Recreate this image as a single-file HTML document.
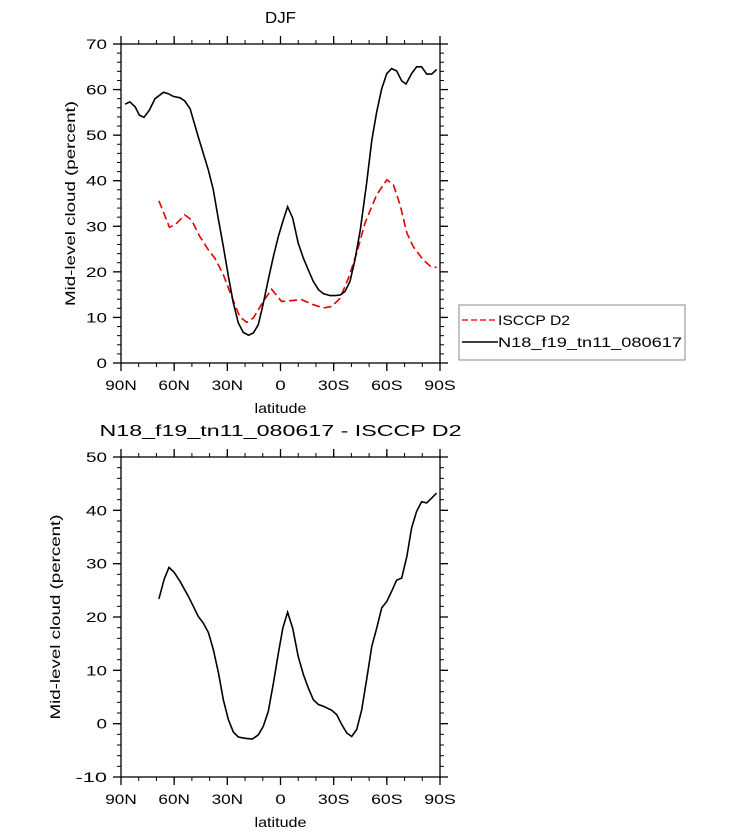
<!DOCTYPE html>
<html><head><meta charset="utf-8"><style>
body{margin:0;background:#fff;}
svg text{font-family:"Liberation Sans",sans-serif;fill:#000;}
</style></head><body>
<svg id="chart" width="733" height="835" xmlns="http://www.w3.org/2000/svg"></svg>
<script>
const xTickLabels=["90N","60N","30N","0","30S","60S","90S"];
const xTickLats=[90,60,30,0,-30,-60,-90];
const topYTicks=[0,10,20,30,40,50,60,70];
const botYTicks=[-10,0,10,20,30,40,50];
const modelLat=[87.7,85,82,79.7,77,74,70.8,66,63.3,60.5,56.7,54,51,46.4,40.7,37.9,35,32.3,29.4,26.6,23.8,21,18,15.3,12.5,9.7,6.9,4,1.2,-1.6,-4,-6.9,-10,-12.9,-15.7,-18.5,-21.4,-24.2,-28,-30.8,-33.6,-36.4,-39.2,-42,-45,-48.6,-51.5,-54.3,-57.1,-60,-62.7,-65.5,-68.4,-70.8,-74,-76.8,-79.6,-82.5,-85.3,-88.1];
const modelVal=[56.8,57.3,56.2,54.4,53.9,55.5,58,59.4,59.1,58.5,58.2,57.5,55.8,49.6,42.3,38,31.4,25.6,19,13.1,8.8,6.7,6.1,6.6,8.4,13.1,18.3,23.4,27.8,31.4,34.3,31.8,26.3,23,20.4,17.9,16.1,15.2,14.8,14.8,14.9,15.7,17.9,22.6,29.2,39.4,48.9,55.1,60.2,63.5,64.6,64.1,61.9,61.2,63.5,65,65,63.4,63.4,64.4];
const obsLat=[68.6,62.7,59.5,54,50.2,45.6,40.7,37,32.3,27.6,23,19.1,15.3,9.7,5,-0.6,-6.3,-11.9,-18.5,-24.2,-28.9,-33.6,-38.3,-43,-47.7,-54.3,-60,-63.7,-67.5,-71.3,-75,-80.6,-85.3,-88.1];
const obsVal=[35.6,29.8,30.3,32.5,31.4,27.8,24.8,23,19.4,14.6,10.2,8.9,9.9,13.5,16.2,13.5,13.7,13.9,12.8,12.1,12.4,14.2,18.6,24.1,30.7,36.9,40.2,39.1,34.7,28.5,25.5,22.6,21,21];
const diffLat=[68.6,65.6,62.9,60.1,56.7,52,49.2,46.4,43.6,40.7,37.9,35,32.3,29.4,26.6,23.8,20,15.9,12.5,9.7,6.9,4,1.2,-1.3,-4,-6.9,-10,-12.9,-15.7,-18.5,-21.4,-24.2,-28.9,-31.7,-34.6,-37.4,-40.2,-43,-45.8,-48.6,-51.5,-54.3,-57.1,-60,-62.7,-65.5,-68.4,-71.3,-74,-76.8,-79.6,-82.5,-85.3,-88.1];
const diffVal=[23.4,27.1,29.3,28.4,26.7,23.9,22,20.1,18.9,17.1,13.9,9.5,4.5,0.75,-1.6,-2.5,-2.75,-2.9,-2.1,-0.5,2.3,7.6,13.25,17.9,20.9,17.9,12.6,9.2,6.7,4.5,3.6,3.25,2.5,1.7,-0.2,-1.75,-2.4,-1.1,2.6,8.25,14.5,17.9,21.7,22.9,24.8,26.9,27.3,31.4,36.7,39.8,41.6,41.4,42.3,43.25];

const svg=document.getElementById('chart');
const NS='http://www.w3.org/2000/svg';
function mk(tag,attrs,parent){const e=document.createElementNS(NS,tag);for(const k in attrs)e.setAttribute(k,attrs[k]);(parent||svg).appendChild(e);return e;}
const X0=121,X1=440;
function xs(lat){return X0+(90-lat)/180*(X1-X0);}
function tl(s){return Math.max(8,s.length*10.5);}

function panel(name,top,bot,ymin,ymax,yticks,minorStep,title,titleLen,ytitleX){
  const g=mk('g',{});
  
  
  const ys=v=>bot-(v-ymin)/(ymax-ymin)*(bot-top);
  for(let v=ymin;v<=ymax+1e-6;v+=minorStep){
    const y=ys(v);
    mk('line',{x1:X0-4,x2:X0,y1:y,y2:y,stroke:'#000','stroke-width':1},g);
    mk('line',{x1:X1,x2:X1+4,y1:y,y2:y,stroke:'#000','stroke-width':1},g);
  }
  for(let lat=90;lat>=-90;lat-=10){
    const x=xs(lat);
    mk('line',{x1:x,x2:x,y1:bot,y2:bot+4,stroke:'#000','stroke-width':1},g);
    mk('line',{x1:x,x2:x,y1:top-4,y2:top,stroke:'#000','stroke-width':1},g);
  }
  yticks.forEach(v=>{
    const y=ys(v);
    mk('line',{x1:X0-8,x2:X0,y1:y,y2:y,stroke:'#000','stroke-width':1.3},g);
    mk('line',{x1:X1,x2:X1+8,y1:y,y2:y,stroke:'#000','stroke-width':1.3},g);
    const s=String(v);
    const t=mk('text',{x:X0-14,y:y+5,'text-anchor':'end','font-size':14,textLength:tl(s),lengthAdjust:'spacingAndGlyphs'},g);
    t.textContent=s;
    
    
  });
  xTickLats.forEach((lat,i)=>{
    const x=xs(lat);
    mk('line',{x1:x,x2:x,y1:bot,y2:bot+8,stroke:'#000','stroke-width':1.3},g);
    mk('line',{x1:x,x2:x,y1:top-8,y2:top,stroke:'#000','stroke-width':1.3},g);
    const s=xTickLabels[i];
    const t=mk('text',{x:x,y:bot+27,'text-anchor':'middle','font-size':14,textLength:tl(s),lengthAdjust:'spacingAndGlyphs'},g);
    t.textContent=s;
    
    
  });
  mk('rect',{x:X0,y:top,width:X1-X0,height:bot-top,fill:'none',stroke:'#000','stroke-width':1.3},g);
  const xt=mk('text',{x:(X0+X1)/2,y:bot+50,'text-anchor':'middle','font-size':14,textLength:52,lengthAdjust:'spacingAndGlyphs'},g);
  xt.textContent='latitude';
  
  
  const cy=(top+bot)/2;
  const yt=mk('text',{x:ytitleX,y:cy,'text-anchor':'middle','font-size':14,textLength:205,lengthAdjust:'spacingAndGlyphs',transform:`rotate(-90 ${ytitleX} ${cy})`},g);
  yt.textContent='Mid-level cloud (percent)';
  
  
  const tt=mk('text',{x:(X0+X1)/2,y:top-21,'text-anchor':'middle','font-size':16,textLength:titleLen,lengthAdjust:'spacingAndGlyphs'},g);
  tt.textContent=title;
  
  
  return {g,ys};
}
function line(p,lats,vals,color,dash,name){
  const d=lats.map((l,i)=>(i?'L':'M')+xs(l).toFixed(1)+','+p.ys(vals[i]).toFixed(1)).join(' ');
  const e=mk('path',{d:d,fill:'none',stroke:color,'stroke-width':1.6,'stroke-dasharray':dash||'none'},p.g);
  
  
}
const p1=panel('top-panel',44,363,0,70,topYTicks,2,'DJF',31,75);
line(p1,obsLat,obsVal,'#e00000','8,4','isccp-d2-line');
line(p1,modelLat,modelVal,'#000',null,'model-line');
const p2=panel('bottom-panel',457,777,-10,50,botYTicks,2,'N18_f19_tn11_080617 - ISCCP D2',362,60);
line(p2,diffLat,diffVal,'#000',null,'difference-line');

const lg=mk('g',{});


mk('rect',{x:459,y:305,width:226,height:55,fill:'#fff',stroke:'#888','stroke-width':1},lg);
mk('line',{x1:462,x2:498,y1:320,y2:320,stroke:'#ff2020','stroke-width':1.6,'stroke-dasharray':'6,3'},lg);
const l1=mk('text',{x:498,y:325,'font-size':14,textLength:72,lengthAdjust:'spacingAndGlyphs'},lg);l1.textContent='ISCCP D2';


mk('line',{x1:462,x2:498,y1:342,y2:342,stroke:'#000','stroke-width':1.6},lg);
const l2=mk('text',{x:498,y:347,'font-size':14,textLength:184,lengthAdjust:'spacingAndGlyphs'},lg);l2.textContent='N18_f19_tn11_080617';


</script>
</body></html>
